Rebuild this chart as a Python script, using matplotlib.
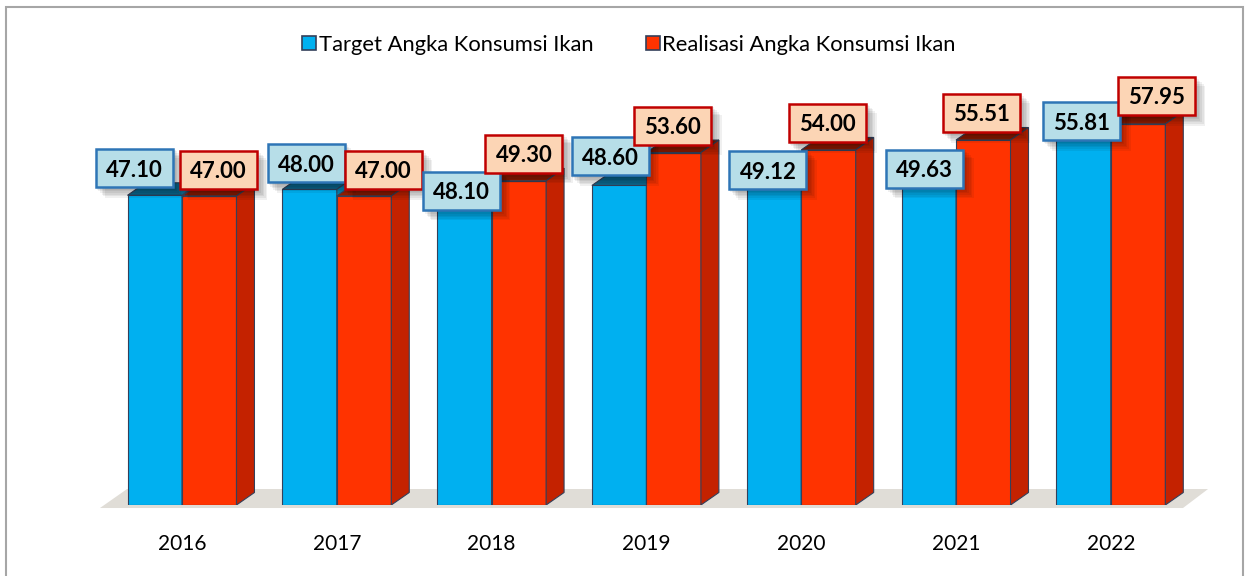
import matplotlib.pyplot as plt
import matplotlib.transforms as mtransforms
from matplotlib.patches import Patch, Polygon, Rectangle
import numpy as np

# data
years = ['2016', '2017', '2018', '2019', '2020', '2021', '2022']
target = [47.10, 48.00, 48.10, 48.60, 49.12, 49.63, 55.81]
realisasi = [47.00, 47.00, 49.30, 53.60, 54.00, 55.51, 57.95]
series_names = ['Target Angka Konsumsi Ikan', 'Realisasi Angka Konsumsi Ikan']

# label box offsets (pixels) from the top of each bar, like Excel placed them
target_off = [(-20, 27), (-3, 26), (-3, -2), (-9, 29), (-6, 12), (-4, 10), (-2, 17)]
real_off = [(9, 26), (19, 26), (5, 27), (-1, 27), (-1, 27), (-2, 27), (18, 28)]

plt.rcParams['font.family'] = ['Lato', 'DejaVu Sans']

blue = '#00B0F0'
blue_top = '#0B6A90'
blue_side = '#0080B0'
red = '#FF3300'
red_top = '#8E1C00'
red_side = '#C42200'
edge = '#34405A'

fig = plt.figure(figsize=(12.48, 5.76), dpi=100)
ax = fig.add_axes([0, 71 / 576, 1, 505 / 576])
ax.set_xlim(-1.1757, 6.886)
ax.set_ylim(0, 76.8)
for s in ax.spines.values():
    s.set_visible(False)
ax.set_yticks([])

x = np.arange(len(years))
w = 0.352
ddx, ddy = 0.116, 1.9  # 3d depth in data units

# floor
floor = Polygon([(-0.53, -0.46), (6.466, -0.46), (6.628, 2.43), (-0.355, 2.43)],
                closed=True, facecolor='#E0DDD7', edgecolor='none', zorder=1, clip_on=False)
ax.add_patch(floor)


def bar3d(x0, v, front, top, side, z):
    ax.bar(x0, v, w, align='edge', color=front, edgecolor=edge, linewidth=0.8, zorder=z)
    ax.add_patch(Polygon([(x0, v), (x0 + w, v), (x0 + w + ddx, v + ddy), (x0 + ddx, v + ddy)],
                         closed=True, facecolor=top, edgecolor=edge, linewidth=0.8, zorder=z))
    ax.add_patch(Polygon([(x0 + w, 0), (x0 + w + ddx, ddy), (x0 + w + ddx, v + ddy), (x0 + w, v)],
                         closed=True, facecolor=side, edgecolor=edge, linewidth=0.8, zorder=z))


for i in range(len(years)):
    bar3d(x[i] - w, target[i], blue, blue_top, blue_side, 2 + i * 0.1)
    bar3d(x[i], realisasi[i], red, red_top, red_side, 2.05 + i * 0.1)


def label_box(xc, v, off, fill, ec):
    base = mtransforms.ScaledTranslation(xc, v, ax.transData)
    bw, bh = 77, 38
    # soft shadow
    for k in range(1, 7):
        t = mtransforms.Affine2D().translate(off[0] + k * 1.6, off[1] - k * 1.6) + base
        ax.add_patch(Rectangle((-bw / 2 - 1, -bh / 2 - 1), bw + 2, bh + 2, transform=t,
                               facecolor='black', alpha=0.06, edgecolor='none', zorder=5, clip_on=False))
    t = mtransforms.Affine2D().translate(off[0], off[1]) + base
    ax.add_patch(Rectangle((-bw / 2, -bh / 2), bw, bh, transform=t, facecolor=fill,
                           edgecolor=ec, linewidth=1.8, zorder=6, clip_on=False))
    ax.text(0, 0, f'{v:.2f}', transform=t, ha='center', va='center_baseline',
            fontsize=16, fontweight='bold', color='black', zorder=7)


for i in range(len(years)):
    label_box(x[i] - w / 2, target[i], target_off[i], '#B7DEE8', '#2E75B6')
    label_box(x[i] + w / 2, realisasi[i], real_off[i], '#FCD5B5', '#C00000')

ax.set_xticks(x)
ax.set_xticklabels(years, fontsize=15)
ax.tick_params(axis='x', length=0, pad=21)

handles = [Patch(facecolor=blue, edgecolor=edge, linewidth=1.2),
           Patch(facecolor=red, edgecolor=edge, linewidth=1.2)]
fig.legend(handles, series_names, loc='center', bbox_to_anchor=(629 / 1248, 1 - 45 / 576),
           ncol=2, frameon=False, fontsize=15.8, handlelength=0.62, handleheight=0.62,
           handletextpad=0.12, columnspacing=2.4)

# outer chart border
fig.add_artist(Rectangle((6 / 1248, -0.02), 1237 / 1248, (576 - 7) / 576 + 0.02,
                         transform=fig.transFigure, fill=False, edgecolor='#A6A6A6', linewidth=1.5))

fig.savefig('out.png', dpi=100)
